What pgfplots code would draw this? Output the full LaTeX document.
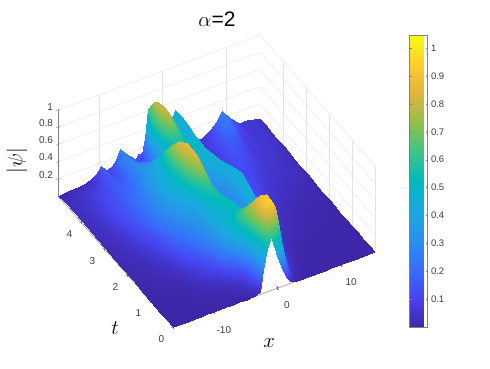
\documentclass[border=0pt]{standalone}
\usepackage{fontspec}
\setmainfont{Liberation Sans}
\usepackage{pgfplots}
\pgfplotsset{compat=1.18}
\definecolor{lab}{RGB}{60,60,60}
% x grid of the surface, 41 points per t row
\newcount\xn
\xn=0
\pgfplotsforeachungrouped \v in {-16.4,-14.5,-13,-12,-11,-10.4,-9.7,-8.8,-8.1,-7.5,-6.7,-6,-5.4,-4.8,-4.3,-3.8,-3.3,-2.8,-2.2,-1.6,-1,-0.5,0,0.5,1,1.5,2,2.5,3,3.5,4.3,5.2,6,7.4,8.4,9.4,10.6,12,13.2,14.3,15.3}{%
  \expandafter\edef\csname xg\the\xn\endcsname{\v}\advance\xn by 1 }
\def\xat{\csname xg\the\numexpr\coordindex-41*((\coordindex-20)/41)\relax\endcsname}
\begin{document}
\begin{tikzpicture}[x=1pt,y=1pt]
\useasboundingbox (0,0) rectangle (490,368);
\begin{axis}[
    at={(277.5pt,79.8pt)}, anchor=origin,
    x={(6.372pt,2.366pt)}, y={(-23pt,26.2pt)}, z={(0pt,86pt)},
    xmin=-16.4, xmax=15.3, ymin=0, ymax=5, zmin=0, zmax=1,
    xtick={-10,0,10}, xticklabels={-10,0,10}, ytick={0,1,2,3,4}, ztick={0.2,0.4,0.6,0.8,1},
    zticklabels={0.2,0.4,0.6,0.8,1},
    /pgf/number format/assume math mode=true,
    tick label style={font=\fontsize{10}{12}\selectfont, text=lab},
    xticklabel style={xshift=5pt,yshift=-7pt},
    yticklabel style={xshift=-4pt,yshift=-3.5pt},
    axis lines=left,
    axis line style={-, draw=gray, thin},
    tick style={draw=gray, thin},
    grid=major,
    grid style={draw=gray!22, thin},
    clip=false,
    point meta min=0, point meta max=1.047,
    colormap={parula}{rgb255=(62,38,168) rgb255=(71,68,240) rgb255=(55,110,252) rgb255=(40,145,235) rgb255=(25,170,222) rgb255=(0,185,190) rgb255=(60,197,135) rgb255=(145,191,75) rgb255=(225,180,60) rgb255=(252,205,45) rgb255=(249,251,21)},
    colorbar,
    colorbar style={
        at={(401pt,41pt)}, anchor=south west, width=18pt, height=292pt,
        ytick={0.1,0.2,0.3,0.4,0.5,0.6,0.7,0.8,0.9,1}, yticklabels={0.1,0.2,0.3,0.4,0.5,0.6,0.7,0.8,0.9,1},
        tick label style={font=\fontsize{9.5}{11}\selectfont, text=lab},
        /pgf/number format/assume math mode=true,
        axis line style={draw=gray}, tick style={draw=gray},
        major tick length=2pt,
    },
    title={$\alpha$=2}, title style={at={(axis cs:8.55,5,1.30)}, anchor=center, font=\fontsize{21}{24}\selectfont},
    xlabel={$x$}, xlabel style={at={(axis cs:-1.3,0,-0.60)}, anchor=center, font=\fontsize{22}{24}\selectfont},
    ylabel={$t$}, ylabel style={at={(axis cs:-16.4,2.52,-0.78)}, anchor=center, font=\fontsize{22}{24}\selectfont},
    zlabel={$|\psi|$}, zlabel style={at={(axis cs:-16.4,6.78,-0.13)}, anchor=center, rotate=0, font=\fontsize{20}{24}\selectfont},
]
\addplot3[surf, shader=interp, z buffer=sort, mesh/cols=41, mesh/ordering=x varies]
  table[header=false, row sep=crcr, z index=0,
        x expr={\xat},
        y expr={0.25*floor(\coordindex/41)}] {
0\\0\\0\\0\\0\\0\\0\\0\\0\\0\\ 0\\0\\0\\0\\0\\.005\\.01\\.03\\.27\\.5\\ .62\\.5\\.38\\.25\\.15\\.08\\.03\\.01\\0\\0\\ 0\\0\\0\\0\\0\\0\\0\\0\\0\\0\\0\\
0\\0\\0\\0\\0\\.001\\.002\\.003\\.004\\.005\\ .007\\.01\\.014\\.02\\.03\\.05\\.1\\.2\\.42\\.7\\ .9\\.97\\.93\\.85\\.67\\.44\\.23\\.09\\.03\\.012\\ .005\\.002\\.001\\0\\0\\0\\0\\0\\0\\0\\0\\
0\\0\\0\\.001\\.002\\.003\\.005\\.008\\.012\\.016\\ .022\\.03\\.04\\.05\\.06\\.08\\.14\\.28\\.52\\.76\\ .88\\.93\\.94\\.88\\.74\\.55\\.36\\.2\\.1\\.05\\ .015\\.005\\.002\\.001\\0\\0\\0\\0\\0\\0\\0\\
0\\.001\\.002\\.004\\.006\\.008\\.012\\.02\\.028\\.036\\ .05\\.07\\.1\\.14\\.19\\.27\\.38\\.5\\.63\\.76\\ .82\\.85\\.86\\.8\\.68\\.54\\.4\\.27\\.16\\.09\\ .035\\.012\\.006\\.003\\.001\\0\\0\\0\\0\\0\\0\\
.002\\.004\\.006\\.01\\.014\\.02\\.028\\.045\\.06\\.08\\ .11\\.14\\.2\\.29\\.37\\.44\\.5\\.56\\.63\\.67\\ .68\\.69\\.69\\.65\\.56\\.46\\.36\\.26\\.17\\.1\\ .05\\.025\\.012\\.006\\.003\\.002\\.001\\0\\0\\0\\0\\
.003\\.006\\.01\\.016\\.024\\.03\\.045\\.065\\.09\\.11\\ .15\\.2\\.26\\.33\\.39\\.44\\.48\\.51\\.54\\.57\\ .58\\.57\\.54\\.48\\.42\\.38\\.34\\.28\\.2\\.13\\ .07\\.04\\.02\\.015\\.01\\.006\\.004\\.003\\.002\\.001\\0\\
.005\\.01\\.016\\.025\\.035\\.05\\.07\\.1\\.13\\.15\\ .2\\.25\\.3\\.36\\.4\\.43\\.46\\.48\\.5\\.51\\ .52\\.5\\.45\\.39\\.36\\.38\\.4\\.36\\.28\\.19\\ .1\\.055\\.035\\.022\\.015\\.01\\.007\\.006\\.005\\.003\\.001\\
.008\\.015\\.025\\.035\\.05\\.07\\.1\\.14\\.17\\.2\\ .25\\.29\\.33\\.38\\.41\\.44\\.47\\.5\\.53\\.54\\ .52\\.46\\.39\\.33\\.32\\.35\\.4\\.42\\.38\\.28\\ .15\\.08\\.05\\.03\\.02\\.014\\.01\\.008\\.007\\.005\\.002\\
.01\\.02\\.03\\.05\\.07\\.09\\.13\\.18\\.21\\.24\\ .28\\.31\\.34\\.39\\.43\\.47\\.51\\.55\\.56\\.53\\ .46\\.38\\.31\\.28\\.28\\.31\\.37\\.43\\.45\\.38\\ .22\\.11\\.07\\.04\\.028\\.02\\.014\\.012\\.01\\.008\\.004\\
.012\\.025\\.04\\.06\\.09\\.11\\.16\\.22\\.25\\.28\\ .32\\.35\\.37\\.42\\.48\\.54\\.6\\.62\\.57\\.48\\ .38\\.31\\.27\\.26\\.27\\.31\\.36\\.42\\.46\\.43\\ .28\\.14\\.08\\.05\\.035\\.025\\.02\\.017\\.015\\.012\\.006\\
.014\\.03\\.05\\.08\\.11\\.14\\.19\\.25\\.28\\.31\\ .36\\.39\\.41\\.48\\.56\\.66\\.74\\.74\\.62\\.48\\ .36\\.3\\.27\\.27\\.29\\.32\\.37\\.42\\.46\\.44\\ .34\\.2\\.11\\.07\\.05\\.04\\.03\\.025\\.02\\.016\\.008\\
.016\\.035\\.06\\.1\\.13\\.16\\.21\\.26\\.3\\.34\\ .4\\.44\\.48\\.55\\.66\\.78\\.85\\.8\\.62\\.44\\ .34\\.3\\.28\\.29\\.31\\.34\\.38\\.42\\.45\\.45\\ .38\\.24\\.13\\.085\\.06\\.05\\.04\\.03\\.027\\.02\\.01\\
.018\\.04\\.07\\.11\\.15\\.18\\.22\\.27\\.32\\.36\\ .43\\.46\\.51\\.6\\.74\\.85\\.87\\.76\\.56\\.42\\ .35\\.33\\.32\\.33\\.35\\.38\\.41\\.44\\.45\\.41\\ .34\\.22\\.13\\.1\\.08\\.06\\.05\\.04\\.034\\.025\\.012\\
.02\\.045\\.08\\.12\\.16\\.18\\.22\\.26\\.3\\.36\\ .42\\.46\\.52\\.62\\.77\\.83\\.78\\.62\\.47\\.4\\ .38\\.38\\.38\\.39\\.41\\.43\\.45\\.44\\.38\\.3\\ .24\\.17\\.12\\.11\\.09\\.07\\.055\\.05\\.04\\.03\\.015\\
.022\\.05\\.09\\.125\\.16\\.18\\.21\\.24\\.28\\.33\\ .38\\.42\\.48\\.59\\.7\\.71\\.64\\.52\\.45\\.42\\ .42\\.43\\.44\\.45\\.46\\.47\\.46\\.42\\.34\\.24\\ .17\\.13\\.11\\.12\\.1\\.08\\.06\\.055\\.045\\.035\\.018\\
.024\\.05\\.09\\.125\\.15\\.17\\.19\\.22\\.26\\.31\\ .36\\.39\\.44\\.51\\.57\\.57\\.53\\.47\\.46\\.48\\ .49\\.49\\.49\\.49\\.48\\.48\\.45\\.38\\.28\\.17\\ .13\\.11\\.11\\.13\\.12\\.09\\.065\\.06\\.05\\.04\\.02\\
.025\\.05\\.09\\.12\\.14\\.16\\.18\\.19\\.23\\.27\\ .33\\.34\\.36\\.4\\.42\\.42\\.45\\.53\\.6\\.62\\ .6\\.56\\.52\\.49\\.47\\.46\\.46\\.38\\.28\\.18\\ .11\\.1\\.1\\.14\\.14\\.11\\.07\\.065\\.055\\.045\\.022\\
.026\\.05\\.08\\.11\\.13\\.15\\.17\\.17\\.2\\.25\\ .31\\.3\\.3\\.3\\.3\\.31\\.42\\.62\\.78\\.76\\ .68\\.6\\.53\\.47\\.44\\.44\\.46\\.38\\.27\\.17\\ .1\\.09\\.09\\.15\\.16\\.13\\.08\\.07\\.06\\.05\\.025\\
.026\\.045\\.07\\.09\\.11\\.14\\.16\\.14\\.17\\.23\\ .29\\.26\\.24\\.2\\.18\\.21\\.36\\.64\\.8\\.78\\ .7\\.6\\.5\\.41\\.38\\.41\\.48\\.42\\.3\\.2\\ .1\\.08\\.08\\.14\\.2\\.18\\.09\\.07\\.06\\.055\\.028\\
.022\\.035\\.05\\.06\\.08\\.12\\.17\\.11\\.15\\.25\\ .29\\.22\\.19\\.13\\.11\\.15\\.24\\.56\\.78\\.76\\ .66\\.55\\.46\\.38\\.34\\.4\\.5\\.44\\.34\\.24\\ .12\\.07\\.07\\.13\\.22\\.25\\.13\\.07\\.06\\.055\\.03\\
0\\.02\\.02\\.025\\.06\\.09\\.16\\.09\\.11\\.15\\ .28\\.22\\.17\\.13\\.09\\.14\\.07\\.3\\.62\\.66\\ .62\\.54\\.47\\.4\\.33\\.42\\.49\\.41\\.34\\.26\\ .155\\.08\\.05\\.11\\.18\\.275\\.17\\.07\\.065\\.055\\.02\\
};
\end{axis}
\end{tikzpicture}
\end{document}
